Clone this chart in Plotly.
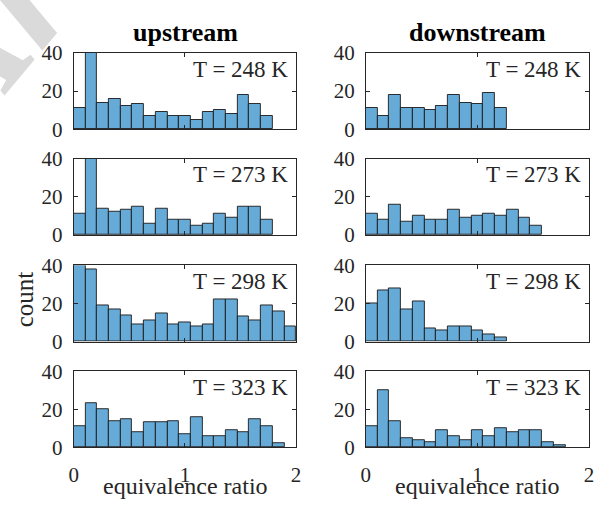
import plotly.graph_objects as go

# ---------------- data ----------------
bin_width = 2 / 19
temps = ["T = 248 K", "T = 273 K", "T = 298 K", "T = 323 K"]
col_titles = ["upstream", "downstream"]

up_248 = [11, 45, 14, 16, 12, 13, 7, 9, 7, 7, 5, 9, 10, 8, 18, 13, 7]
up_273 = [11, 45, 14, 12, 13, 15, 6, 14, 8, 8, 5, 6, 11, 9, 15, 15, 8]
up_298 = [40, 38, 19, 17, 14, 9, 11, 15, 9, 10, 8, 9, 22, 22, 13, 11, 19, 16, 8]
up_323 = [11, 23, 20, 14, 15, 8, 13, 13, 14, 7, 16, 6, 6, 9, 8, 15, 11, 2]

down_248 = [11, 7, 18, 11, 11, 10, 12, 18, 14, 13, 19, 11]
down_273 = [11, 8, 16, 7, 10, 8, 8, 13, 9, 10, 11, 10, 13, 9, 5]
down_298 = [20, 27, 28, 17, 21, 7, 6, 8, 8, 6, 4, 2]
down_323 = [11, 30, 14, 5, 4, 3, 9, 6, 4, 9, 6, 10, 8, 9, 9, 3, 1]

series = [[up_248, down_248], [up_273, down_273], [up_298, down_298], [up_323, down_323]]

y_ticks = [0, 20, 40]
x_ticks = [0, 1, 2]

# ---------------- layout geometry ----------------
W, H = 595, 507
col_px = [(70, 296), (367, 594)]
row_px = [(43, 123), (154, 234), (266, 346), (377, 457)]

bar_color = "rgb(102,170,215)"
axis_color = "#262626"
serif = "Liberation Serif, Times New Roman, serif"
tick_size = 21

fig = go.Figure()
layout = dict(
    width=W, height=H,
    margin=dict(l=0, r=0, t=0, b=0),
    paper_bgcolor="white", plot_bgcolor="white",
    showlegend=False, bargap=0,
    font=dict(family=serif, size=tick_size, color=axis_color),
)
annotations = []

# faint watermark (drawn first), mostly outside the top-left corner
annotations.append(dict(
    text="Arc", xref="paper", yref="paper", x=-4 / W, y=1 + 4 / H,
    xanchor="center", yanchor="middle", textangle=-50, showarrow=False,
    font=dict(family=serif, size=175, color="rgb(218,218,218)",
              style="italic", weight="bold"),
))

idx = 0
for r in range(4):
    for c in range(2):
        idx += 1
        xa = "x" if idx == 1 else f"x{idx}"
        ya = "y" if idx == 1 else f"y{idx}"
        vals = series[r][c]
        centers = [(k + 0.5) * bin_width for k in range(len(vals))]
        fig.add_trace(go.Bar(
            x=centers, y=vals, width=bin_width,
            marker=dict(color=bar_color, line=dict(color="#1a1a1a", width=0.9)),
            xaxis=xa, yaxis=ya, hoverinfo="skip",
        ))
        x0, x1 = col_px[c]
        y0, y1 = row_px[r]
        xkey = "xaxis" if idx == 1 else f"xaxis{idx}"
        ykey = "yaxis" if idx == 1 else f"yaxis{idx}"
        layout[xkey] = dict(
            domain=[x0 / W, x1 / W], anchor=ya, range=[0, 2],
            tickvals=x_ticks, ticktext=[str(v) for v in x_ticks],
            showticklabels=(r == 3), ticklabelstandoff=8,
            ticks="inside", ticklen=4, tickcolor=axis_color,
            showline=True, linecolor=axis_color, linewidth=1, mirror="ticks",
            showgrid=False, zeroline=False, fixedrange=True,
            tickfont=dict(family=serif, size=tick_size, color=axis_color),
        )
        layout[ykey] = dict(
            domain=[1 - y1 / H, 1 - y0 / H], anchor=xa, range=[0, 40],
            tickvals=y_ticks, ticktext=[str(v) for v in y_ticks],
            ticklabelstandoff=6,
            ticks="inside", ticklen=4, tickcolor=axis_color,
            showline=True, linecolor=axis_color, linewidth=1, mirror="ticks",
            showgrid=False, zeroline=False, fixedrange=True,
            tickfont=dict(family=serif, size=tick_size, color=axis_color),
        )
        # temperature label
        annotations.append(dict(
            text=temps[r], xref="paper", yref="paper",
            x=(x1 - 6) / W, y=1 - (y0 + 17) / H,
            xanchor="right", yanchor="middle", showarrow=False,
            font=dict(family=serif, size=23, color=axis_color),
        ))

# column titles and x labels
for c in range(2):
    x0, x1 = col_px[c]
    annotations.append(dict(
        text=f"<b>{col_titles[c]}</b>", xref="paper", yref="paper",
        x=(x0 + 113.5) / W, y=1 - 22 / H, xanchor="center", yanchor="middle",
        showarrow=False, font=dict(family=serif, size=26, color="black"),
    ))
    annotations.append(dict(
        text="equivalence ratio", xref="paper", yref="paper",
        x=(x0 + 113.5) / W, y=1 - 498 / H, xanchor="center", yanchor="middle",
        showarrow=False, font=dict(family=serif, size=24, color=axis_color),
    ))

annotations.append(dict(
    text="count", xref="paper", yref="paper", x=20 / W, y=1 - 302 / H,
    xanchor="center", yanchor="middle", textangle=-90, showarrow=False,
    font=dict(family=serif, size=25, color=axis_color),
))

layout["annotations"] = annotations
fig.update_layout(**layout)
fig.write_html("out.html")
